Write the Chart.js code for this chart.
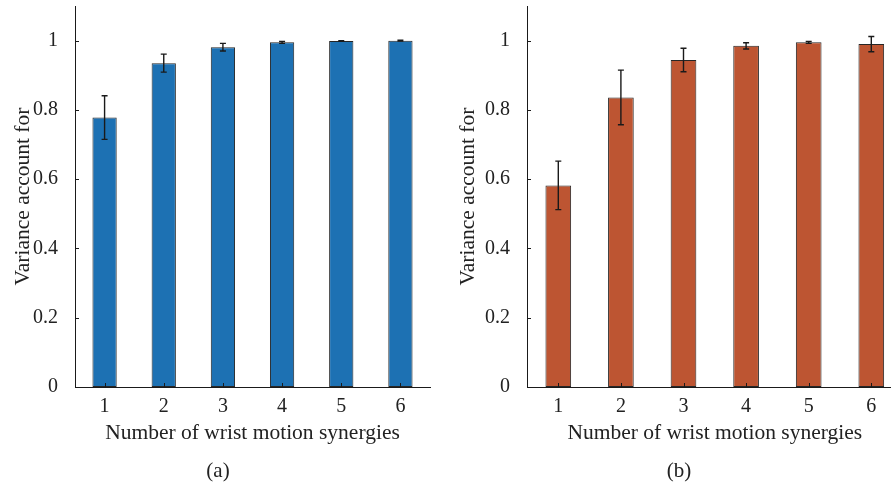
<!DOCTYPE html>
<html lang="en">
<head>
    <meta charset="UTF-8">
    <title>Variance account for</title>
    <script src="https://cdn.jsdelivr.net/npm/chart.js"></script>
    <style>
        body {
            margin: 0;
            background: #fff;
            overflow: hidden;
            font-family: 'Liberation Serif', serif;
        }
        #page {
            position: relative;
            width: 891px;
            height: 487px;
            overflow: hidden;
        }
        canvas {
            position: absolute;
            top: 0;
        }
        #chartA { left: 0; }
        #chartB { left: 445px; }
        .sub {
            position: absolute;
            top: 458px;
            width: 40px;
            margin-left: -20px;
            text-align: center;
            font-size: 21px;
            color: #222;
        }
    </style>
</head>
<body>
    <div id="page">
        <canvas id="chartA" width="445" height="487"></canvas>
        <canvas id="chartB" width="470" height="487"></canvas>
        <div class="sub" style="left:218px">(a)</div>
        <div class="sub" style="left:679px">(b)</div>
    </div>

    <script>
        const categories = ['1', '2', '3', '4', '5', '6'];
        const yTicks = [0, 0.2, 0.4, 0.6, 0.8, 1];

        // panel (a)
        const meansA = [0.778, 0.935, 0.981, 0.995, 0.999, 1.0];
        const errA = [0.063, 0.026, 0.011, 0.003, 0.001, 0.001];
        // panel (b)
        const meansB = [0.582, 0.836, 0.944, 0.985, 0.995, 0.990];
        const errB = [0.070, 0.079, 0.034, 0.009, 0.003, 0.022];

        const serif = "'Liberation Serif', serif";
        const textColor = '#222';

        // error bars with small caps
        const errorBars = {
            id: 'errorBars',
            afterDatasetsDraw(chart, args, opts) {
                const c = chart.ctx;
                const y = chart.scales.y;
                const meta = chart.getDatasetMeta(0);
                c.save();
                c.strokeStyle = '#1a1a1a';
                c.lineWidth = 1.4;
                meta.data.forEach((bar, i) => {
                    const m = opts.means[i], e = opts.errs[i];
                    const top = y.getPixelForValue(m + e);
                    const bot = y.getPixelForValue(m - e);
                    c.beginPath();
                    c.moveTo(bar.x, top); c.lineTo(bar.x, bot);
                    c.moveTo(bar.x - 3, top); c.lineTo(bar.x + 3, top);
                    c.moveTo(bar.x - 3, bot); c.lineTo(bar.x + 3, bot);
                    c.stroke();
                });
                c.restore();
            }
        };

        // inward tick marks like matlab
        const innerTicks = {
            id: 'innerTicks',
            afterDraw(chart) {
                const c = chart.ctx;
                const x = chart.scales.x, y = chart.scales.y;
                const a = chart.chartArea;
                c.save();
                c.strokeStyle = '#1a1a1a';
                c.lineWidth = 1;
                c.beginPath();
                categories.forEach((cat, i) => {
                    const px = Math.round(x.getPixelForValue(i)) + 0.5;
                    c.moveTo(px, a.bottom); c.lineTo(px, a.bottom - 4);
                });
                yTicks.forEach(v => {
                    const py = Math.round(y.getPixelForValue(v)) + 0.5;
                    c.moveTo(a.left, py); c.lineTo(a.left + 4, py);
                });
                c.stroke();
                c.restore();
            }
        };

        function makeChart(id, means, errs, color, yWidth, padRight) {
            return new Chart(document.getElementById(id), {
                type: 'bar',
                data: {
                    labels: categories,
                    datasets: [{
                        data: means,
                        backgroundColor: color,
                        borderColor: '#262626',
                        borderWidth: 1,
                        borderSkipped: false,
                        barPercentage: 0.41,
                        categoryPercentage: 1
                    }]
                },
                options: {
                    responsive: false,
                    animation: false,
                    devicePixelRatio: 1,
                    layout: { padding: { left: 0, top: 6, right: padRight, bottom: 0 } },
                    scales: {
                        x: {
                            grid: { display: false },
                            border: { color: '#1a1a1a', width: 1 },
                            ticks: { color: textColor, padding: 0, font: { family: serif, size: 20 } },
                            title: {
                                display: true,
                                text: 'Number of wrist motion synergies',
                                color: textColor,
                                font: { family: serif, size: 21.5, lineHeight: 1.2 },
                                padding: { top: 0, bottom: 41 }
                            },
                            afterFit: s => {
                                s.height = 100;
                                s.paddingLeft = 0; s.paddingRight = 0;
                            }
                        },
                        y: {
                            min: 0,
                            max: 1.1,
                            grid: { display: false },
                            border: { color: '#1a1a1a', width: 1 },
                            afterBuildTicks: s => { s.ticks = yTicks.map(v => ({ value: v })); },
                            ticks: {
                                color: textColor,
                                padding: 9,
                                font: { family: serif, size: 20 },
                                callback: v => String(v)
                            },
                            title: {
                                display: true,
                                text: 'Variance account for',
                                color: textColor,
                                font: { family: serif, size: 21.5, lineHeight: 1.2 },
                                padding: { top: 10, bottom: 0 }
                            },
                            afterFit: s => {
                                s.width = yWidth;
                                s.paddingTop = 0; s.paddingBottom = 0;
                            }
                        }
                    },
                    plugins: {
                        legend: { display: false },
                        tooltip: { enabled: false },
                        errorBars: { means: means, errs: errs }
                    }
                },
                plugins: [errorBars, innerTicks]
            });
        }

        makeChart('chartA', meansA, errA, '#1d71b3', 75, 15);
        makeChart('chartB', meansB, errB, '#bd5532', 82, 12.4);
    </script>
</body>
</html>
